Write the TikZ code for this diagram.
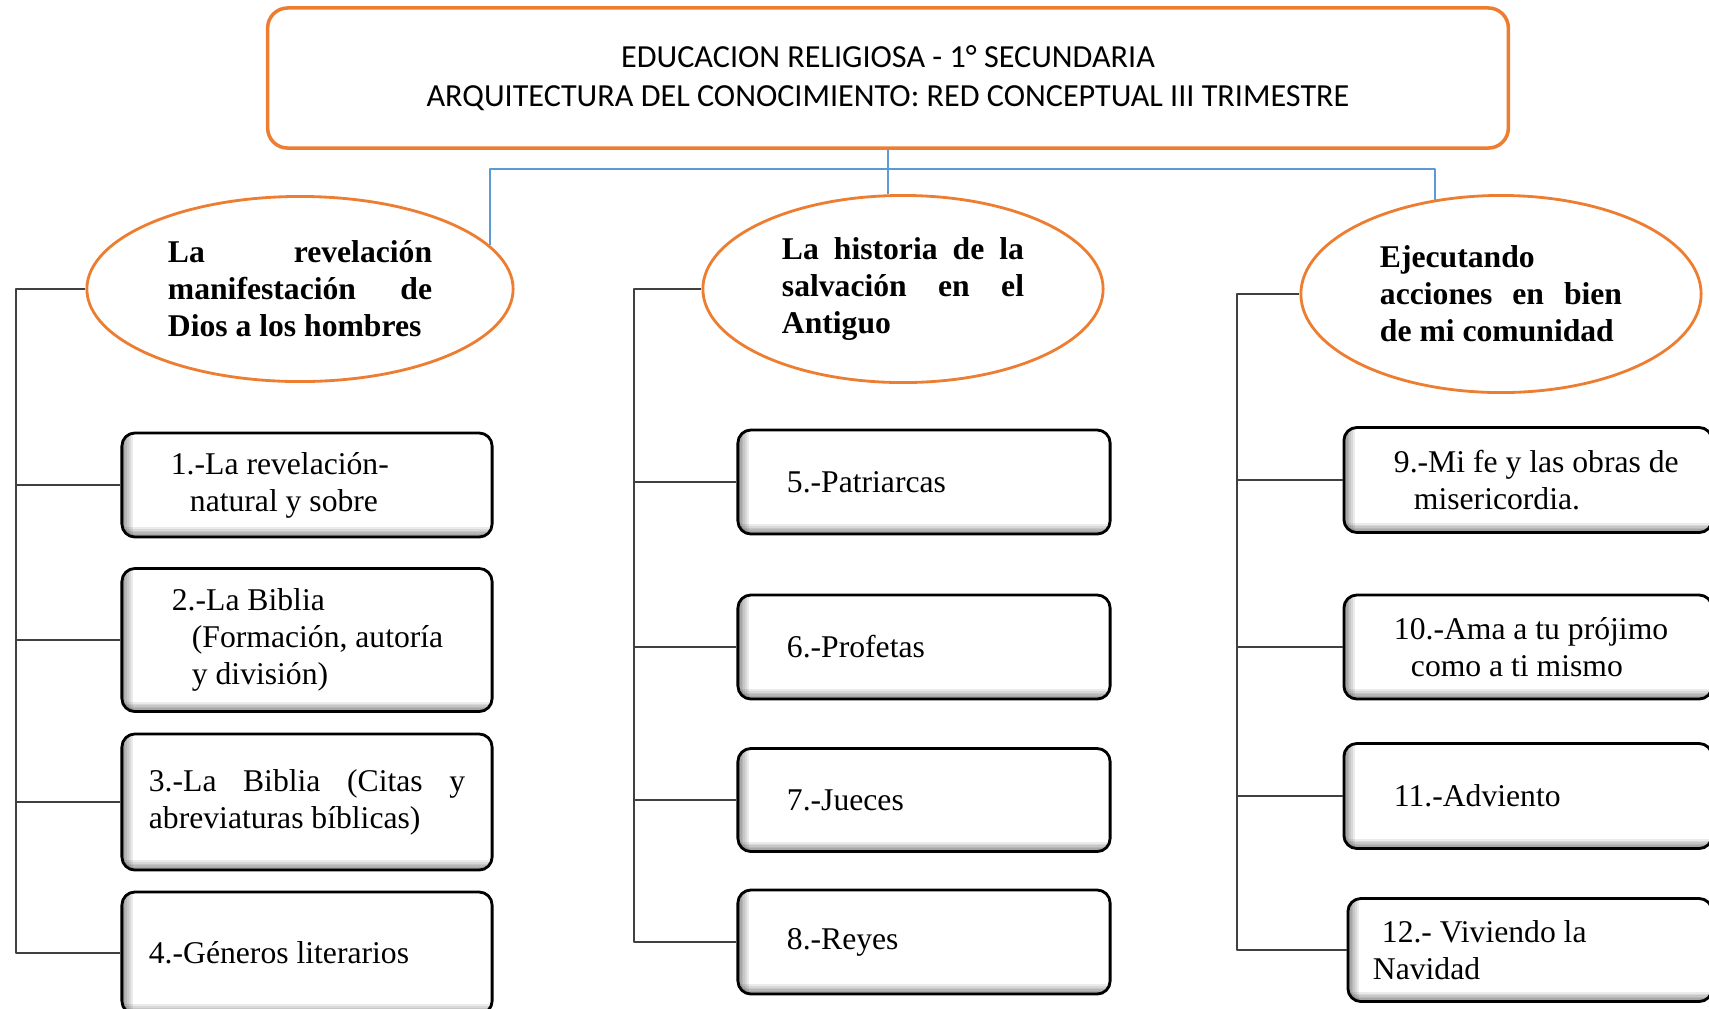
\documentclass[tikz,border=0pt]{standalone}
\usepackage{fontspec}
\setmainfont{Liberation Serif}
\newfontfamily\titulofont{Carlito}
\usetikzlibrary{shapes.geometric}
\definecolor{naranja}{RGB}{237,125,49}
\definecolor{azul}{RGB}{91,155,213}
\definecolor{gris}{RGB}{64,64,64}

\begin{document}
\begin{tikzpicture}[x=0.01cm,y=-0.01cm,line join=round,
  titulo/.style={draw=naranja,line width=1pt,rounded corners=0.2cm,minimum width=12.4cm,minimum height=1.4cm,
    align=center,font=\titulofont\fontsize{9.15}{11}\selectfont},
  eje/.style={ellipse,draw=naranja,line width=0.8pt,inner sep=0pt,align=flush left,
    font=\bfseries\fontsize{9}{10.5}\selectfont},
  tema/.style={draw,line width=0.8pt,rounded corners=0.13cm,fill=white,inner sep=0pt,align=flush left,
    font=\fontsize{9}{10.5}\selectfont,
    path picture={
      \foreach \i in {1,...,6}{
        \fill[black,opacity=0.08,sharp corners] (path picture bounding box.south west) rectangle ([xshift=\i*0.018cm]path picture bounding box.north west);
        \fill[black,opacity=0.08,sharp corners] (path picture bounding box.south west) rectangle ([yshift=\i*0.016cm]path picture bounding box.south east);
      }
    }},
  col1/.style={tema,minimum width=3.7cm,text width=3.16cm},
  col2/.style={tema,minimum width=3.72cm,text width=2.74cm},
  col3/.style={tema,minimum width=3.68cm,text width=3.3cm},
  rama/.style={draw=gris,line width=0.5pt},
  enlace/.style={draw=azul,line width=0.5pt}]
  \useasboundingbox (0,0) rectangle (1709,1008);

  % 坐标
  \coordinate (barra) at (888,169);
  \coordinate (t1) at (16,0);
  \coordinate (t2) at (634,0);
  \coordinate (t3) at (1237,0);

  % 标题
  \node[titulo] (titulo) at (888,78) {EDUCACION RELIGIOSA - 1° SECUNDARIA\\ARQUITECTURA DEL CONOCIMIENTO: RED CONCEPTUAL III TRIMESTRE};

  % 三个主题
  \node[eje,minimum width=4.26cm,minimum height=1.85cm,text width=2.64cm] (e1) at (300,289)
    {La\hfill revelación\\manifestación\hfill de\\Dios a los hombres};
  \node[eje,minimum width=4cm,minimum height=1.87cm,text width=2.42cm] (e2) at (903,289)
    {La\hfill historia\hfill de\hfill la\\salvación\hfill en\hfill el\\Antiguo};
  \node[eje,minimum width=4cm,minimum height=1.97cm,text width=2.42cm] (e3) at (1501,294)
    {Ejecutando\\acciones\hfill en\hfill bien\\de mi comunidad};

  % 第一列
  \node[col1,minimum height=1.04cm] (b1) at (307,485) {\hspace*{0.22cm}1.-La revelación-\\\hspace*{0.41cm}natural y sobre};
  \node[col1,minimum height=1.43cm] (b2) at (307,640) {\hspace*{0.23cm}2.-La Biblia\\\hspace*{0.43cm}(Formación, autoría\\\hspace*{0.43cm}y división)};
  \node[col1,minimum height=1.36cm] (b3) at (307,802) {3.-La\hfill Biblia\hfill (Citas\hfill y\\abreviaturas bíblicas)};
  \node[col1,minimum height=1.22cm] (b4) at (307,953) {4.-Géneros literarios};

  % 第二列
  \node[col2,minimum height=1.04cm] (b5) at (924,482) {5.-Patriarcas};
  \node[col2,minimum height=1.04cm] (b6) at (924,647) {6.-Profetas};
  \node[col2,minimum height=1.03cm] (b7) at (924,800) {7.-Jueces};
  \node[col2,minimum height=1.04cm] (b8) at (924,942) {8.-Reyes};

  % 第三列
  \node[col3,minimum height=1.05cm] (b9) at (1528,480) {\hspace*{0.31cm}9.-Mi fe y las obras de\\\hspace*{0.51cm}misericordia.};
  \node[col3,minimum height=1.04cm] (b10) at (1528,647) {\hspace*{0.31cm}10.-Ama a tu prójimo\\\hspace*{0.48cm}como a ti mismo};
  \node[col3,minimum height=1.05cm] (b11) at (1528,796) {\hspace*{0.31cm}11.-Adviento};
  \node[col3,minimum width=3.64cm,minimum height=1.03cm] (b12) at (1530,950) {\hspace*{0.17cm}12.- Viviendo la\\\hspace*{0.08cm}Navidad};

  % 蓝色连线
  \draw[enlace] (titulo.south) -- (titulo.south |- e2.north);
  \draw[enlace] (e1.13) |- (barra) -| (e3.125);

  % 灰色树线
  \draw[rama] (e1.west) -| (t1 |- b4.west) -- (b4.west);
  \foreach \b in {b1,b2,b3} \draw[rama] (t1 |- \b.west) -- (\b.west);
  \draw[rama] (e2.west) -| (t2 |- b8.west) -- (b8.west);
  \foreach \b in {b5,b6,b7} \draw[rama] (t2 |- \b.west) -- (\b.west);
  \draw[rama] (e3.west) -| (t3 |- b12.west) -- (b12.west);
  \foreach \b in {b9,b10,b11} \draw[rama] (t3 |- \b.west) -- (\b.west);
\end{tikzpicture}
\end{document}
